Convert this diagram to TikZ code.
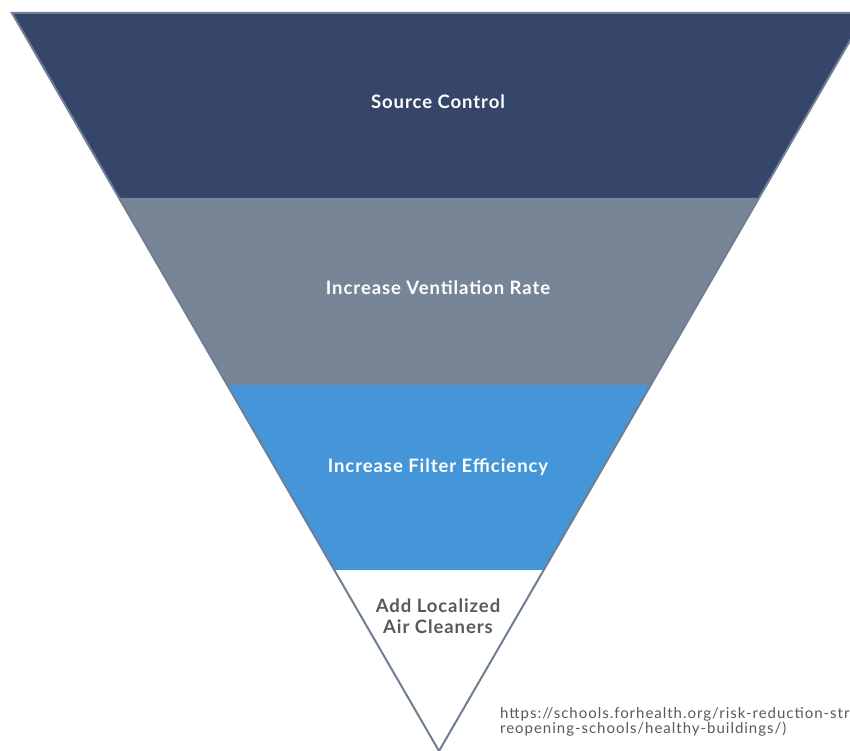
\documentclass[tikz,border=0pt]{standalone}
\usepackage{fontspec}
\setmainfont{Lato}
\newfontfamily\lblfont[LetterSpace=5]{Lato}
\newfontfamily\urlfont[LetterSpace=6.5]{Lato}
\definecolor{navy}{HTML}{36466A}
\definecolor{slate}{HTML}{778596}
\definecolor{skyb}{HTML}{4496D8}
\definecolor{edge}{HTML}{6F7E92}
\definecolor{txtgrey}{HTML}{595959}
\begin{document}
\begin{tikzpicture}[x=1pt,y=-1pt,
  lbl/.style={font=\lblfont\bfseries\fontsize{18.5}{20}\selectfont, text=white, align=center},
  url/.style={font=\urlfont\fontsize{15}{14.5}\selectfont, text=txtgrey, anchor=base west, align=left, inner sep=0pt}]
\useasboundingbox (0,0) rectangle (850,751);
\clip (0,0) rectangle (850,751);
% geometry
\coordinate (TL) at (12,13);
\coordinate (TR) at (866,13);
\coordinate (AP) at (439,751);
\def\lx#1{12+(#1-13)*0.5778}
\def\rx#1{866-(#1-13)*0.5778}
\fill[navy] (TL) -- (TR) -- ({\rx{198}},198) -- ({\lx{198}},198) -- cycle;
\fill[slate] ({\lx{198}},198) -- ({\rx{198}},198) -- ({\rx{385}},385) -- ({\lx{385}},385) -- cycle;
\fill[skyb] ({\lx{385}},385) -- ({\rx{385}},385) -- ({\rx{570}},570) -- ({\lx{570}},570) -- cycle;
\fill[white] ({\lx{570}},570) -- ({\rx{570}},570) -- (AP) -- cycle;
\draw[edge, line width=2pt, line join=miter] (TL) -- (TR) -- (AP) -- cycle;
\node[lbl] (a) at (438,102) {Source Control};
\node[lbl] (b) at (438,288) {Increase Ventilation Rate};
\node[lbl] (c) at (438,467) {Increase Filter Efficiency};
\node[lbl, text=txtgrey, font=\lblfont\bfseries\fontsize{18.5}{21}\selectfont] (d) at (438,616) {Add Localized\\Air Cleaners};
\node[url] (u) at (500,733) {https://schools.forhealth.org/risk-reduction-str\\reopening-schools/healthy-buildings/)};
\end{tikzpicture}
\end{document}
